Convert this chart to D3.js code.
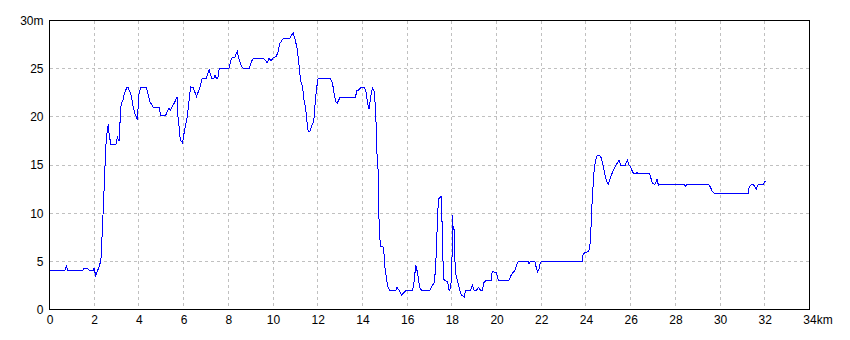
<!DOCTYPE html>
<html><head><meta charset="utf-8">
<script src="https://cdn.jsdelivr.net/npm/d3@7"></script>
<style>
html,body{margin:0;padding:0;background:#fff;}
svg{display:block;}
text{font-family:"Liberation Sans",Arial,sans-serif;font-size:12px;fill:#000;}
</style></head>
<body>
<svg id="chart" width="850" height="340"></svg>
<script>
const distanceKm = [0,0.68,0.76,0.82,1.48,1.55,1.70,1.80,1.95,1.99,2.07,2.12,2.20,2.30,2.33,2.37,2.42,2.46,2.51,2.55,2.63,2.67,2.72,2.75,2.97,3.04,3.10,3.13,3.15,3.19,3.22,3.28,3.35,3.45,3.52,3.60,3.66,3.74,3.81,3.88,3.92,3.97,4.00,4.07,4.34,4.42,4.49,4.56,4.64,4.90,4.98,5.19,5.24,5.34,5.42,5.50,5.60,5.71,5.75,5.80,5.85,5.95,6.02,6.16,6.24,6.31,6.43,6.58,6.73,6.83,7.02,7.14,7.25,7.35,7.40,7.47,7.53,7.59,8.02,8.14,8.29,8.40,8.49,8.59,8.69,8.93,9.04,9.14,9.56,9.68,9.74,9.83,9.90,10.00,10.15,10.23,10.30,10.45,10.75,10.83,10.90,10.98,11.08,11.17,11.23,11.32,11.38,11.46,11.50,11.57,11.65,11.72,11.82,11.87,11.95,12.02,12.57,12.66,12.72,12.80,12.87,12.99,13.69,13.74,13.84,13.91,14.10,14.15,14.21,14.25,14.30,14.36,14.41,14.45,14.52,14.58,14.63,14.66,14.70,14.73,14.78,14.82,14.92,14.97,15.01,15.08,15.12,15.22,15.49,15.55,15.64,15.75,15.85,15.97,16.24,16.30,16.34,16.39,16.42,16.48,16.52,16.58,16.64,17.01,17.09,17.16,17.19,17.24,17.28,17.31,17.34,17.38,17.42,17.49,17.54,17.56,17.59,17.63,17.68,17.79,17.83,17.88,17.95,18.00,18.03,18.06,18.10,18.13,18.18,18.22,18.28,18.35,18.43,18.55,18.62,18.83,18.92,18.99,19.10,19.20,19.28,19.37,19.43,19.52,19.77,19.80,19.89,20.00,20.07,20.11,20.55,20.62,20.71,20.81,20.89,20.98,21.41,21.45,21.52,21.71,21.76,21.84,21.91,21.94,22.01,23.83,23.87,23.95,24.10,24.17,24.20,24.24,24.28,24.33,24.37,24.43,24.51,24.61,24.69,24.76,24.84,24.91,25.00,25.06,25.14,25.24,25.33,25.40,25.48,25.55,25.76,25.85,25.93,26.00,26.08,26.14,26.21,26.28,26.36,26.85,26.91,26.97,27.09,27.18,27.24,27.30,28.39,28.46,28.52,29.49,29.57,29.64,29.76,31.25,31.29,31.37,31.47,31.55,31.62,31.69,31.74,31.95,32.00,32.07];
const elevationM = [4.0,4.0,4.5,4.0,4.0,4.3,4.3,4.0,4.0,4.3,3.5,3.9,4.3,5.1,6.6,8.6,11.2,13.6,16.4,18.0,19.2,18.1,17.5,17.1,17.1,17.9,17.5,17.5,19.2,21.0,21.4,21.7,22.4,23.0,23.0,22.6,22.2,21.1,20.4,20.0,19.8,21.1,22.3,23.0,23.0,22.2,21.6,21.3,21.0,21.0,20.1,20.1,20.4,20.9,20.7,21.1,21.5,22.1,20.0,18.9,17.6,17.3,18.3,20.0,21.6,23.1,23.0,22.1,23.1,24.0,24.0,24.9,24.0,24.0,24.3,24.0,24.0,25.0,25.0,26.1,26.2,26.8,25.9,25.2,25.0,25.0,25.8,26.1,26.1,25.8,25.6,26.1,25.8,26.1,26.3,26.8,27.6,28.1,28.1,28.5,28.7,28.1,27.1,25.2,23.8,23.1,21.8,20.9,19.9,18.5,18.5,19.0,19.5,21.0,23.0,24.0,24.0,23.5,22.6,21.6,21.4,22.0,22.0,22.7,22.8,23.0,23.0,22.7,21.8,21.2,20.8,21.9,22.6,23.0,22.7,21.1,18.1,15.5,14.5,10.0,7.4,6.5,6.5,5.7,4.3,3.2,2.4,2.0,2.0,2.3,2.0,1.5,1.75,2.0,2.0,2.7,3.6,4.6,4.3,3.6,2.9,2.2,2.0,2.0,2.3,2.7,2.6,3.4,4.8,6.2,8.3,10.5,11.5,11.7,11.7,9.1,6.2,3.2,3.0,2.9,2.6,2.0,2.3,4.1,9.8,8.3,8.3,5.3,3.6,3.3,2.7,2.0,1.5,1.3,2.0,2.0,2.5,2.0,2.0,2.3,2.0,2.0,2.8,3.0,3.0,3.9,3.9,3.8,3.1,3.0,3.0,3.4,3.8,4.0,4.6,5.0,5.0,4.7,5.0,5.0,4.5,3.9,4.3,4.7,5.0,5.0,5.7,5.9,6.0,6.4,7.4,9.3,11.4,13.3,14.6,15.5,16.0,16.0,15.7,15.0,14.1,13.4,13.0,13.4,14.0,14.5,14.9,15.2,15.5,15.0,15.0,15.5,15.0,14.8,14.3,14.1,14.1,14.2,14.1,14.1,13.6,13.1,13.0,13.5,12.9,13.0,13.0,12.8,13.0,13.0,12.7,12.3,12.0,12.0,12.6,12.9,13.0,12.8,12.5,12.9,13.0,13.0,13.3,13.3];
const xTicks = [0,2,4,6,8,10,12,14,16,18,20,22,24,26,28,30,32,34];
const yTicks = [0,5,10,15,20,25,30];
const xUnit = "km";
const yUnit = "m";

const svg = d3.select("#chart");
const x = d3.scaleLinear().domain([0,34]).range([49.5,809.5]);
const y = d3.scaleLinear().domain([0,30]).range([309.5,20.5]);

// grid
const grid = svg.append("g").attr("stroke","#c0c0c0").attr("stroke-dasharray","3,3").attr("shape-rendering","crispEdges");
grid.selectAll("line.v").data(xTicks.filter(t=>t>0&&t<34)).enter().append("line")
  .attr("x1",d=>x(d)).attr("x2",d=>x(d)).attr("y1",y(30)).attr("y2",y(0));
grid.selectAll("line.h").data(yTicks.filter(t=>t>0&&t<30)).enter().append("line")
  .attr("y1",d=>y(d)).attr("y2",d=>y(d)).attr("x1",x(0)).attr("x2",x(34));

// line
const pts = distanceKm.map((d,i)=>[d, elevationM[i]]);
svg.append("path").datum(pts)
  .attr("fill","none").attr("stroke","#0000ff").attr("stroke-width",1)
  .attr("shape-rendering","crispEdges")
  .attr("d", d3.line().x(d=>x(d[0])).y(d=>y(d[1])));

// frame
svg.append("rect").attr("x",x(0)).attr("y",y(30)).attr("width",x(34)-x(0)).attr("height",y(0)-y(30))
  .attr("fill","none").attr("stroke","#000").attr("stroke-width",1).attr("shape-rendering","crispEdges");

// axes
const yAxis = svg.append("g").attr("transform",`translate(${x(0)},0)`)
  .call(d3.axisLeft(y).tickValues(yTicks).tickSize(0).tickPadding(6)
    .tickFormat(d=> d===30 ? d+yUnit : String(d)));
yAxis.select(".domain").remove();
yAxis.selectAll("text").style("font-family","Liberation Sans, Arial, sans-serif").style("font-size","12px");

const xAxis = svg.append("g").attr("transform",`translate(0,${y(0)})`)
  .call(d3.axisBottom(x).tickValues(xTicks).tickSize(0).tickPadding(6).tickFormat(d=>String(d)));
xAxis.select(".domain").remove();
xAxis.selectAll("text").style("font-family","Liberation Sans, Arial, sans-serif").style("font-size","12px");
// append unit after last tick label, keeping number centered on tick
xAxis.selectAll(".tick").filter(d=>d===34).each(function(){
  const t = d3.select(this).select("text");
  const w = t.node().getComputedTextLength();
  t.attr("text-anchor","start").attr("x",-w/2).text("34"+xUnit);
});
</script>
</body></html>
